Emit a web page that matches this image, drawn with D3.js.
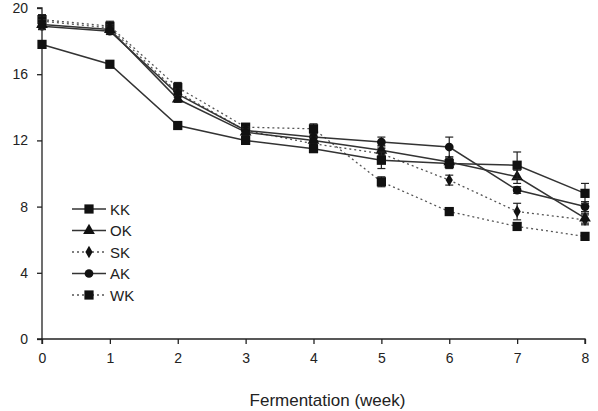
<!DOCTYPE html>
<html>
<head>
<meta charset="utf-8">
<script src="https://cdn.jsdelivr.net/npm/d3@7"></script>
<style>
  body { margin: 0; background: #fff; }
  text { font-family: "Liberation Sans", Arial, sans-serif; fill: #222; }
</style>
</head>
<body>
<svg id="chart" width="598" height="411"></svg>
<script>
// data
var weeks = [0, 1, 2, 3, 4, 5, 6, 7, 8];
var seriesNames = ["KK", "OK", "SK", "AK", "WK"];
var kkValues = [17.8, 16.6, 12.9, 12.0, 11.5, 10.8, 10.6, 10.5, 8.8];
var okValues = [19.0, 18.7, 14.5, 12.5, 12.0, 11.4, 10.7, 9.8, 7.3];
var skValues = [19.2, 18.8, 14.9, 12.6, 11.8, 11.2, 9.6, 7.7, 7.2];
var akValues = [18.9, 18.6, 14.8, 12.6, 12.2, 11.9, 11.6, 9.0, 8.0];
var wkValues = [19.3, 18.9, 15.2, 12.8, 12.7, 9.5, 7.7, 6.8, 6.2];
var kkErr = [0.2, 0.2, 0.2, 0.2, 0.2, 0.5, 0.3, 0.8, 0.6];
var okErr = [0.3, 0.2, 0.2, 0.2, 0.2, 0.3, 0.3, 0.4, 0.3];
var skErr = [0.3, 0.2, 0.2, 0.2, 0.2, 0.3, 0.3, 0.5, 0.3];
var akErr = [0.2, 0.2, 0.2, 0.2, 0.2, 0.3, 0.6, 0.2, 0.3];
var wkErr = [0.3, 0.3, 0.3, 0.2, 0.3, 0.3, 0.2, 0.2, 0.2];
var yTicks = [0, 4, 8, 12, 16, 20];
var xTitle = "Fermentation (week)";

var valuesByName = {KK: kkValues, OK: okValues, SK: skValues, AK: akValues, WK: wkValues};
var errByName = {KK: kkErr, OK: okErr, SK: skErr, AK: akErr, WK: wkErr};
var dotted = {KK: false, OK: false, SK: true, AK: false, WK: true};
var shape = {KK: d3.symbolSquare, OK: d3.symbolTriangle, SK: d3.symbolDiamond, AK: d3.symbolCircle, WK: d3.symbolSquare};
var shapeSize = {KK: 85, OK: 60, SK: 45, AK: 60, WK: 85};

var svg = d3.select("#chart");
var x = d3.scaleLinear().domain([0, 8]).range([42, 585]);
var y = d3.scaleLinear().domain([0, 20]).range([339, 8]);

// axes
var xAxis = svg.append("g")
    .attr("transform", "translate(0," + y(0) + ")")
    .call(d3.axisBottom(x).tickValues(weeks).tickSize(5).tickPadding(9).tickFormat(d3.format("d")));
var yAxis = svg.append("g")
    .attr("transform", "translate(" + x(0) + ",0)")
    .call(d3.axisLeft(y).tickValues(yTicks).tickSize(5).tickPadding(9));
[xAxis, yAxis].forEach(function(ax) {
    ax.select(".domain").attr("stroke", "#222").attr("stroke-width", 1.3);
    ax.selectAll(".tick line").attr("stroke", "#222").attr("stroke-width", 1.3);
    ax.selectAll(".tick text").style("font-size", "14px").attr("fill", "#222")
        .style("font-family", "'Liberation Sans', Arial, sans-serif");
});
// x domain should not stick out past the tick
xAxis.select(".domain").attr("d", "M" + x(0) + ",5V0H" + x(8) + "V5");
yAxis.select(".domain").attr("d", "M-5," + y(20) + "H0V" + y(0) + "H-5");

svg.append("text")
    .attr("x", (x(0) + x(8)) / 2 + 14)
    .attr("y", 406)
    .attr("text-anchor", "middle")
    .style("font-size", "17px")
    .text(xTitle);

var line = d3.line()
    .x(function(d) { return x(d.w); })
    .y(function(d) { return y(d.v); });

// draw lines first, then error bars and markers
var drawOrder = ["WK", "SK", "AK", "OK", "KK"];
drawOrder.forEach(function(name) {
    var pts = weeks.map(function(w, i) {
        return {w: w, v: valuesByName[name][i], e: errByName[name][i]};
    });
    svg.append("path")
        .datum(pts)
        .attr("fill", "none")
        .attr("stroke", dotted[name] ? "#555" : "#333")
        .attr("stroke-width", dotted[name] ? 1.3 : 1.5)
        .attr("stroke-dasharray", dotted[name] ? "2,3" : null)
        .attr("d", line);
});

drawOrder.forEach(function(name) {
    var pts = weeks.map(function(w, i) {
        return {w: w, v: valuesByName[name][i], e: errByName[name][i]};
    });
    var g = svg.append("g");
    var eb = g.selectAll("g.err").data(pts).enter().append("g").attr("class", "err");
    eb.append("line")
        .attr("x1", function(d) { return x(d.w); })
        .attr("x2", function(d) { return x(d.w); })
        .attr("y1", function(d) { return y(d.v - d.e); })
        .attr("y2", function(d) { return y(d.v + d.e); })
        .attr("stroke", "#222").attr("stroke-width", 1.2);
    [-1, 1].forEach(function(s) {
        eb.append("line")
            .attr("x1", function(d) { return x(d.w) - 4; })
            .attr("x2", function(d) { return x(d.w) + 4; })
            .attr("y1", function(d) { return y(d.v + s * d.e); })
            .attr("y2", function(d) { return y(d.v + s * d.e); })
            .attr("stroke", "#222").attr("stroke-width", 1.2);
    });
    g.selectAll("path.mk").data(pts).enter().append("path")
        .attr("class", "mk")
        .attr("transform", function(d) { return "translate(" + x(d.w) + "," + y(d.v) + ")"; })
        .attr("d", d3.symbol().type(shape[name]).size(shapeSize[name]))
        .attr("fill", "#111");
});

// legend
var legend = svg.append("g");
seriesNames.forEach(function(name, i) {
    var ly = 209 + i * 21.5;
    legend.append("line")
        .attr("x1", 72).attr("x2", 106)
        .attr("y1", ly).attr("y2", ly)
        .attr("stroke", dotted[name] ? "#555" : "#333")
        .attr("stroke-width", dotted[name] ? 1.3 : 1.5)
        .attr("stroke-dasharray", dotted[name] ? "2,3" : null);
    legend.append("path")
        .attr("transform", "translate(89," + ly + ")")
        .attr("d", d3.symbol().type(shape[name]).size(shapeSize[name]))
        .attr("fill", "#111");
    legend.append("text")
        .attr("x", 110).attr("y", ly + 5.5)
        .style("font-size", "15px")
        .text(name);
});
</script>
</body>
</html>
